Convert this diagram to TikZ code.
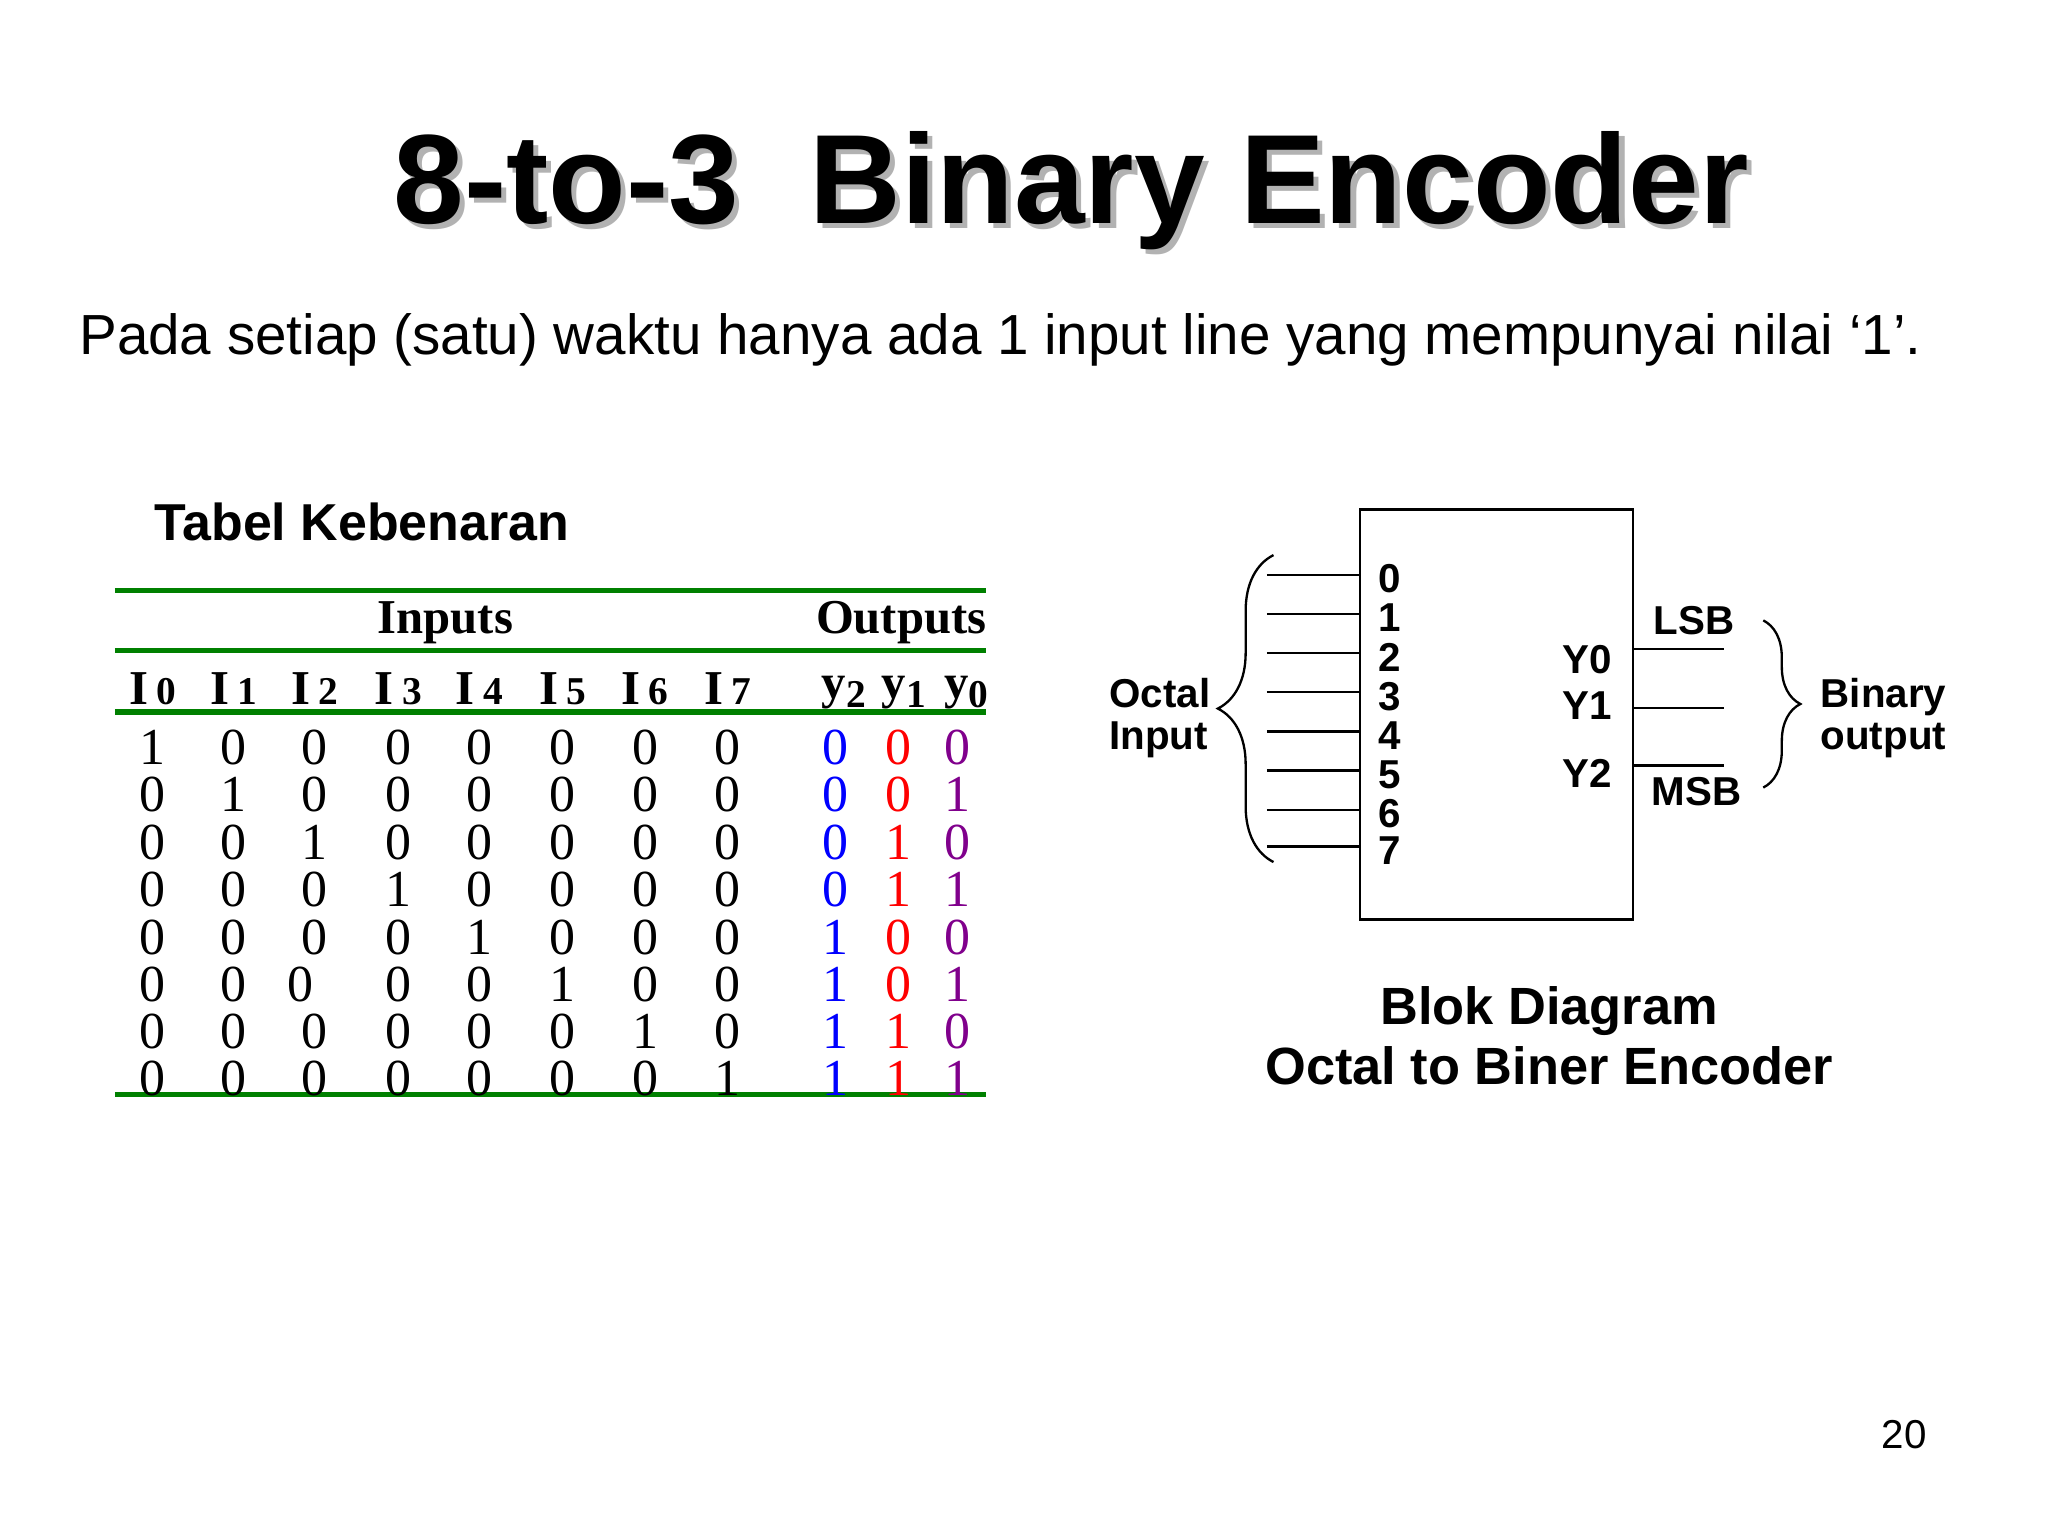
\documentclass[tikz,border=0pt]{standalone}
\usepackage{fontspec}
\setmainfont{Liberation Serif}
\newfontfamily\arial{Liberation Sans}
\usetikzlibrary{decorations.pathreplacing}
\definecolor{tgreen}{rgb}{0,0.5,0}
\definecolor{tpurple}{rgb}{0.5,0,0.55}
\tikzset{
 cell/.style={inner sep=0pt,font=\fontsize{11.2}{12}\selectfont},
 hdr/.style={inner sep=0pt,font=\fontsize{10.5}{12}\selectfont\bfseries},
 lab/.style={inner sep=0pt,font=\arial\fontsize{8.7}{10}\selectfont\bfseries},
 gline/.style={tgreen,line width=1.2pt},
 wire/.style={line width=0.5pt}
}
\begin{document}
\begin{tikzpicture}[x=0.0099cm,y=-0.0099cm]
\useasboundingbox (0,0) rectangle (1568,1175);
% title
\node[gray!60,font=\arial\fontsize{27.4}{30}\selectfont\bfseries] (tsh) at (824,150) {8-to-3\ \ Binary Encoder};
\node[font=\arial\fontsize{27.4}{30}\selectfont\bfseries] (title) at (820,146) {8-to-3\ \ Binary Encoder};
\node[font=\arial\fontsize{12.2}{14}\selectfont] (sub) at (766,260) {Pada setiap (satu) waktu hanya ada 1 input line yang mempunyai nilai ‘1’.};
\node[font=\arial\fontsize{11.2}{12}\selectfont\bfseries] (tk) at (277,400) {Tabel Kebenaran};
% table
\draw[gline] (88,452) coordinate (g1a) -- (755,452) coordinate (g1b);
\draw[gline] (88,498) coordinate (g2a) -- (755,498) coordinate (g2b);
\draw[gline] (88,545) coordinate (g3a) -- (755,545) coordinate (g3b);
\draw[gline] (88,838) coordinate (g4a) -- (755,838) coordinate (g4b);
\node[hdr] (hin) at (341,477) {Inputs};
\node[hdr] (hout) at (690,477) {Outputs};
\foreach \x/\i in {117/0,179/1,241/2,305/3,367/4,431/5,494/6,557/7}
  \node[hdr] (h\i) at (\x,527) {I\,{\fontsize{8.5}{10}\selectfont\i}};
\node[hdr] (hy2) at (646,530) {y{\fontsize{8.5}{10}\selectfont\raisebox{-2pt}{2}}};
\node[hdr] (hy1) at (692,530) {y{\fontsize{8.5}{10}\selectfont\raisebox{-2pt}{1}}};
\node[hdr] (hy0) at (740,530) {y{\fontsize{8.5}{10}\selectfont\raisebox{-2pt}{0}}};
\foreach \r/\y in {0/572,1/608,2/645,3/681,4/718,5/754,6/790,7/826}{
  \foreach \x/\i in {117/0,179/1,241/2,305/3,367/4,431/5,494/6,557/7}{
    \pgfmathsetmacro\v{int(\r==\i)}
    \pgfmathsetmacro\xx{(\r==5 && \i==2) ? 230 : \x}
    \node[cell] (c\r\i) at (\xx,\y) {\v};
  }
  \pgfmathsetmacro\ba{int(floor(\r/4))}
  \pgfmathsetmacro\bb{int(mod(floor(\r/2),2))}
  \pgfmathsetmacro\bc{int(mod(\r,2))}
  \node[cell,blue] (o\r a) at (640,\y) {\ba};
  \node[cell,red] (o\r b) at (688,\y) {\bb};
  \node[cell,tpurple] (o\r c) at (733,\y) {\bc};
}
% block diagram
\draw[wire] (1041,390) rectangle (1250,704);
\node (box) at (1145,547) {};
\foreach \n/\y in {0/440,1/470,2/500,3/530,4/560,5/590,6/620,7/648}{
  \coordinate (w\n) at (970,\y);
  \node[lab] (n\n) at (1064,\y+3) {\n};
  \draw[wire] (w\n) -- (1041,\y);
}
\draw[wire,decorate,decoration={brace,amplitude=12pt,raise=0pt}] (975,660) -- (975,425);
\node[lab,align=left] (oct) at (888,550) {Octal\\[-1pt]Input};
\foreach \n/\y/\ly in {0/497/505,1/542/540,2/586/592}{
  \coordinate (q\n) at (1320,\y);
  \draw[wire] (1250,\y) -- (q\n);
  \node[lab] (y\n) at (1215,\ly) {Y\n};
}
\node[lab] (lsb) at (1297,475) {LSB};
\node[lab] (msb) at (1299,606) {MSB};
\draw[wire,decorate,decoration={brace,amplitude=8pt}] (1350,475) -- (1350,603);
\node[lab,align=left] (bo) at (1442,550) {Binary\\[-1pt]output};
\node[font=\arial\fontsize{11.3}{13}\selectfont\bfseries,align=center] (bd) at (1186,793) {Blok Diagram\\[0pt]Octal to Biner Encoder};
\node[font=\arial\fontsize{8.7}{10}\selectfont] (pg) at (1458,1098) {20};
\end{tikzpicture}
\end{document}
